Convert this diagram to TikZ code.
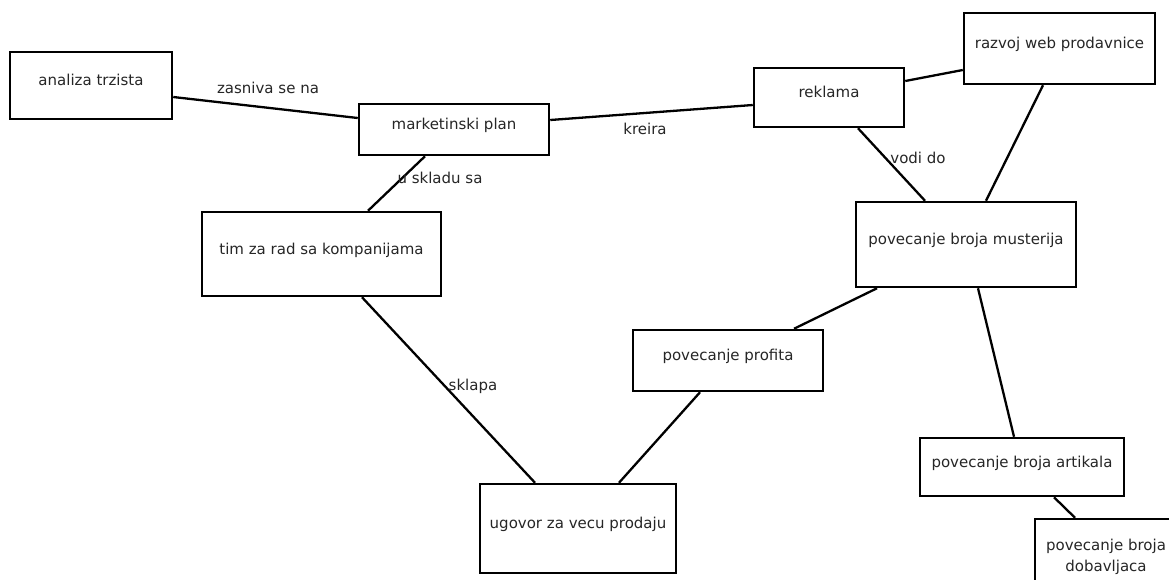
\documentclass[tikz,border=0pt]{standalone}
\usepackage{fontspec}
\setmainfont{DejaVu Sans}
\begin{document}
\begin{tikzpicture}[x=1pt,y=-1pt,
  box/.style={draw, line width=2.5pt, inner sep=0pt, text height=8pt, text depth=8pt,
    font=\fontsize{15}{21}\selectfont, text=black!85},
  boxtwo/.style={draw, line width=2.5pt, inner sep=0pt, align=center,
    font=\fontsize{15}{21}\selectfont, text=black!85},
  conn/.style={line width=2.3pt},
  lbl/.style={anchor=base, inner sep=0pt, font=\fontsize{15}{18}\selectfont, text=black!85}]
\useasboundingbox (0,0) rectangle (1169,579);
\fill[white] (0,0) rectangle (1169,579);
\clip (0,0) rectangle (1169,579);

\node[box, minimum width=162pt, minimum height=67pt] (A) at (91,85.5) {analiza trzista};
\node[box, minimum width=190pt, minimum height=51pt] (M) at (454,129.5) {marketinski plan};
\node[box, minimum width=150pt, minimum height=59pt] (R) at (829,97.5) {reklama};
\node[box, minimum width=191pt, minimum height=71pt] (W) at (1059.5,48.5) {razvoj web prodavnice};
\node[box, minimum width=239pt, minimum height=84pt] (T) at (321.5,254) {tim za rad sa kompanijama};
\node[box, minimum width=220pt, minimum height=85pt] (C) at (966,244.5) {povecanje broja musterija};
\node[box, minimum width=190pt, minimum height=61pt] (P) at (728,360.5) {povecanje profita};
\node[box, minimum width=196pt, minimum height=89pt] (U) at (578,528.5) {ugovor za vecu prodaju};
\node[box, minimum width=204pt, minimum height=58pt] (K) at (1022,467) {povecanje broja artikala};
\node[boxtwo, minimum width=142pt, minimum height=76pt] (D) at (1106,557) {povecanje broja\\dobavljaca};

\draw[conn] ([yshift=-11.5pt]A.east) -- node[lbl, xshift=2.5pt, yshift=14.5pt] (l1) {zasniva se na} ([yshift=11.5pt]M.west);
\draw[conn] ([yshift=9.5pt]M.east) -- node[lbl, xshift=-6.5pt, yshift=-21.5pt] (l2) {kreira} ([yshift=-7.5pt]R.west);
\draw[conn] ([xshift=-29pt]M.south) -- node[lbl, xshift=43.5pt, yshift=0.5pt] (l3) {u skladu sa} ([xshift=46.5pt]T.north);
\draw[conn] ([xshift=29pt]R.south) -- node[lbl, xshift=26.5pt, yshift=1.5pt] (l4) {vodi do} ([xshift=-41pt]C.north);
\draw[conn] ([yshift=16.5pt]R.east) -- ([yshift=-21.5pt]W.west);
\draw[conn] ([xshift=-16.5pt]W.south) -- ([xshift=20pt]C.north);
\draw[conn] ([xshift=-89pt]C.south) -- ([xshift=66pt]P.north);
\draw[conn] ([xshift=12pt]C.south) -- ([xshift=-8pt]K.north);
\draw[conn] ([xshift=40.5pt]T.south) -- node[lbl, xshift=24.5pt] (l5) {sklapa} ([xshift=-43pt]U.north);
\draw[conn] ([xshift=-28pt]P.south) -- ([xshift=41pt]U.north);
\draw[conn] ([xshift=32pt]K.south) -- ([xshift=-31pt]D.north);
\end{tikzpicture}
\end{document}
